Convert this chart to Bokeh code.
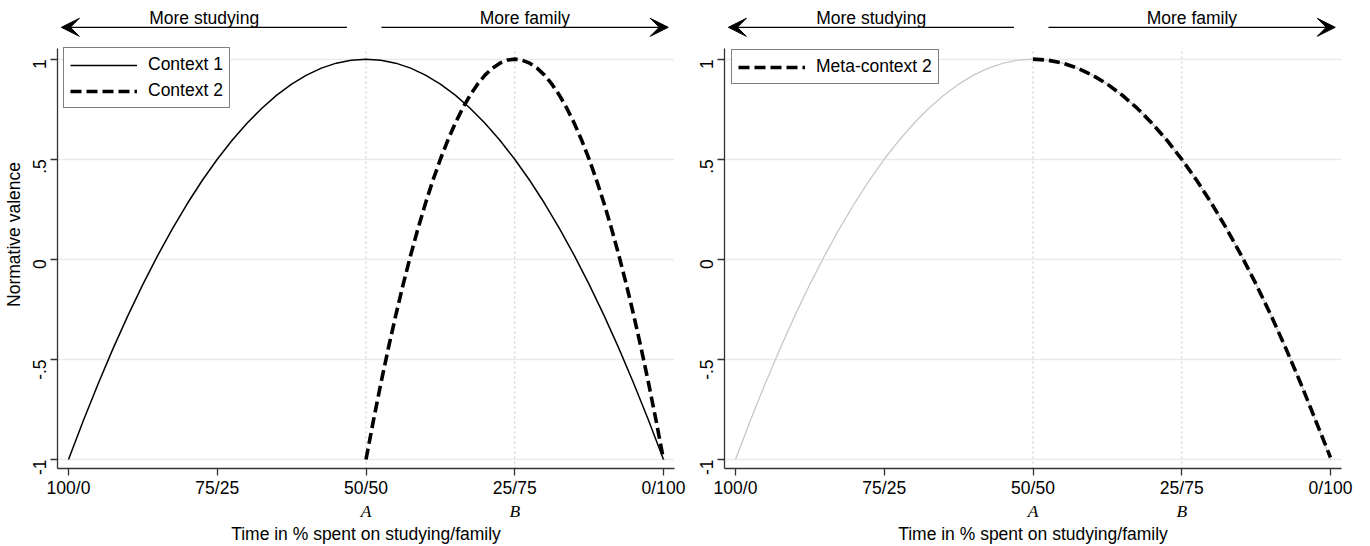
from bokeh.plotting import figure
from bokeh.models import (Range1d, FixedTicker, LinearAxis, Legend, LegendItem,
                          Arrow, VeeHead, Label)
from bokeh.layouts import row
from bokeh.embed import file_html
from bokeh.resources import INLINE

# ---------------- data ----------------
x_tick_pos = [0, 25, 50, 75, 100]
x_tick_labels = ["100/0", "75/25", "50/50", "25/75", "0/100"]
ref_pos = [50, 75]
ref_labels = ["A", "B"]
y_ticks = [-1, -0.5, 0, 0.5, 1]
y_tick_labels = ["-1", "-.5", "0", ".5", "1"]

ctx1_x = [0, 2.5, 5, 7.5, 10, 12.5, 15, 17.5, 20, 22.5, 25, 27.5, 30, 32.5, 35, 37.5,
          40, 42.5, 45, 47.5, 50, 52.5, 55, 57.5, 60, 62.5, 65, 67.5, 70, 72.5, 75,
          77.5, 80, 82.5, 85, 87.5, 90, 92.5, 95, 97.5, 100]
ctx1_y = [-1.0, -0.805, -0.62, -0.445, -0.28, -0.125, 0.02, 0.155, 0.28, 0.395, 0.5,
          0.595, 0.68, 0.755, 0.82, 0.875, 0.92, 0.955, 0.98, 0.995, 1.0, 0.995, 0.98,
          0.955, 0.92, 0.875, 0.82, 0.755, 0.68, 0.595, 0.5, 0.395, 0.28, 0.155, 0.02,
          -0.125, -0.28, -0.445, -0.62, -0.805, -1.0]

ctx2_x = [50, 51.25, 52.5, 53.75, 55, 56.25, 57.5, 58.75, 60, 61.25, 62.5, 63.75, 65,
          66.25, 67.5, 68.75, 70, 71.25, 72.5, 73.75, 75, 76.25, 77.5, 78.75, 80, 81.25,
          82.5, 83.75, 85, 86.25, 87.5, 88.75, 90, 91.25, 92.5, 93.75, 95, 96.25, 97.5,
          98.75, 100]
ctx2_y = [-1.0, -0.805, -0.62, -0.445, -0.28, -0.125, 0.02, 0.155, 0.28, 0.395, 0.5,
          0.595, 0.68, 0.755, 0.82, 0.875, 0.92, 0.955, 0.98, 0.995, 1.0, 0.995, 0.98,
          0.955, 0.92, 0.875, 0.82, 0.755, 0.68, 0.595, 0.5, 0.395, 0.28, 0.155, 0.02,
          -0.125, -0.28, -0.445, -0.62, -0.805, -1.0]

meta2_x = [50, 52.5, 55, 57.5, 60, 62.5, 65, 67.5, 70, 72.5, 75,
           77.5, 80, 82.5, 85, 87.5, 90, 92.5, 95, 97.5, 100]
meta2_y = [1.0, 0.995, 0.98, 0.955, 0.92, 0.875, 0.82, 0.755, 0.68, 0.595, 0.5, 0.395,
           0.28, 0.155, 0.02, -0.125, -0.28, -0.445, -0.62, -0.805, -0.99]

arrow_studying = [46.8, -1.2]   # start, end (x)
arrow_family = [52.6, 100.8]
arrow_texts = ["More studying", "More family"]

FONT = "Liberation Sans"
FS = "17.5px"
Y_LO, Y_HI = -1.045, 1.293
AXIS_TOP = 1.055
AX_Y = 1.159
TXT_Y = 1.208


def make_panel(width, border_left, border_right, ylabel):
    p = figure(width=width, height=546, output_backend="svg", toolbar_location=None,
               x_range=Range1d(-1.85, 101.85), y_range=Range1d(Y_LO, Y_HI),
               min_border_left=border_left, min_border_right=border_right,
               min_border_top=0, min_border_bottom=75)
    p.outline_line_color = None
    p.background_fill_color = "white"
    p.border_fill_color = "white"

    # x axis
    xa = p.xaxis[0]
    xa.ticker = FixedTicker(ticks=x_tick_pos)
    xa.major_label_overrides = dict(zip(x_tick_pos, x_tick_labels))
    xa.minor_tick_line_color = None
    xa.major_tick_in = 0
    xa.major_tick_out = 7
    xa.axis_line_color = "#333333"
    xa.axis_line_width = 1.3
    xa.major_tick_line_color = "#333333"
    xa.major_tick_line_width = 1.3
    xa.major_label_text_font = FONT
    xa.major_label_text_font_size = FS
    xa.major_label_text_color = "black"
    xa.major_label_standoff = 2

    # second axis for A / B and title
    ax2 = LinearAxis(ticker=FixedTicker(ticks=ref_pos),
                     major_label_overrides=dict(zip(ref_pos, ref_labels)),
                     axis_line_color=None, major_tick_line_color=None,
                     minor_tick_line_color=None, major_tick_out=0, major_tick_in=0,
                     major_label_standoff=0,
                     major_label_text_font="Liberation Serif",
                     major_label_text_font_style="italic",
                     major_label_text_font_size=FS,
                     major_label_text_color="black",
                     axis_label="Time in % spent on studying/family",
                     axis_label_text_font=FONT,
                     axis_label_text_font_size=FS,
                     axis_label_text_font_style="normal",
                     axis_label_text_color="black",
                     axis_label_standoff=0)
    p.add_layout(ax2, "below")

    # y axis
    ya = p.yaxis[0]
    ya.ticker = FixedTicker(ticks=y_ticks)
    ya.major_label_overrides = dict(zip(y_ticks, y_tick_labels))
    ya.bounds = (Y_LO, AXIS_TOP)
    ya.minor_tick_line_color = None
    ya.major_tick_in = 0
    ya.major_tick_out = 7
    ya.axis_line_color = "#333333"
    ya.axis_line_width = 1.3
    ya.major_tick_line_color = "#333333"
    ya.major_tick_line_width = 1.3
    ya.major_label_text_font = FONT
    ya.major_label_text_font_size = FS
    ya.major_label_text_color = "black"
    ya.major_label_orientation = 1.5708
    ya.major_label_standoff = 11
    if ylabel:
        ya.axis_label = ylabel
        ya.axis_label_text_font = FONT
        ya.axis_label_text_font_size = FS
        ya.axis_label_text_font_style = "normal"
        ya.axis_label_text_color = "black"
        ya.axis_label_standoff = 0

    p.xgrid.visible = False
    p.ygrid.grid_line_color = "#e4ecee"
    p.ygrid.grid_line_width = 1.5

    # reference dotted lines at A and B
    p.segment(x0=ref_pos, x1=ref_pos, y0=[Y_LO] * len(ref_pos), y1=[AXIS_TOP] * len(ref_pos),
              line_color="#cfcfcf", line_width=1.2, line_dash="2 3")

    # arrows + texts
    for xs in (arrow_studying, arrow_family):
        p.add_layout(Arrow(end=VeeHead(size=18, fill_color="black", line_color="black"),
                           x_start=xs[0], x_end=xs[1],
                           y_start=AX_Y, y_end=AX_Y, line_width=1.3, line_color="black"))
    for xs, t in zip([arrow_studying, arrow_family], arrow_texts):
        p.add_layout(Label(x=(xs[0] + xs[1]) / 2, y=TXT_Y, text=t, text_align="center",
                           text_baseline="middle", text_font=FONT, text_font_size=FS,
                           text_color="black"))
    return p


def style_legend(lg, loc):
    lg.location = loc
    lg.border_line_color = "black"
    lg.border_line_width = 1
    lg.background_fill_alpha = 1
    lg.padding = 6
    lg.spacing = 5
    lg.glyph_width = 67
    lg.glyph_height = 20
    lg.label_height = 20
    lg.label_standoff = 11
    lg.label_text_font = FONT
    lg.label_text_font_size = FS
    lg.label_text_color = "black"
    lg.margin = 0


# ---------------- left panel ----------------
p1 = make_panel(687, 57, 13, "Normative valence")
r1 = p1.line(ctx1_x, ctx1_y, line_color="black", line_width=1.5)
r2 = p1.line(ctx2_x, ctx2_y, line_color="black", line_width=3.6, line_dash="11 5")
lg1 = Legend(items=[LegendItem(label="Context 1", renderers=[r1]),
                    LegendItem(label="Context 2", renderers=[r2])])
style_legend(lg1, (6, 360))
p1.add_layout(lg1)

# ---------------- right panel ----------------
p2 = make_panel(683, 37, 29, None)
p2.line(ctx1_x, ctx1_y, line_color="#c8c8c8", line_width=1.3)
r3 = p2.line(meta2_x, meta2_y, line_color="black", line_width=3.6, line_dash="11 5")
lg2 = Legend(items=[LegendItem(label="Meta-context 2", renderers=[r3])])
style_legend(lg2, (7, 384))
p2.add_layout(lg2)

layout = row(p1, p2)
open("out.html", "w").write(file_html(layout, INLINE))
